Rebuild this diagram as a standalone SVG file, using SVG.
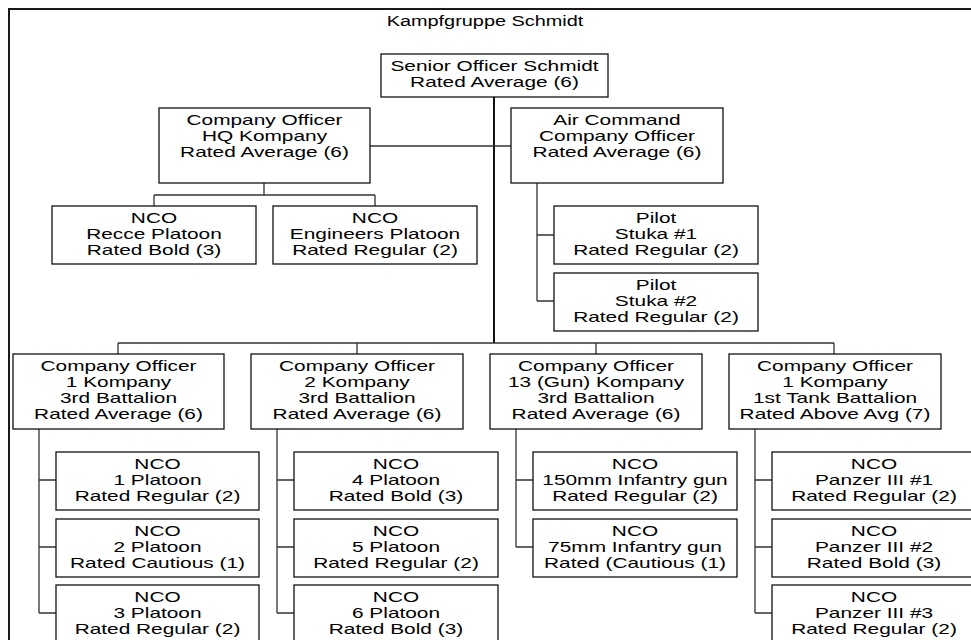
<svg xmlns="http://www.w3.org/2000/svg" width="971" height="640" viewBox="0 0 971 640">
<style>
.frame{fill:none;stroke:#1a1a1a;stroke-width:2}
.box{fill:#fff;stroke:#111;stroke-width:1.3}
.ln{fill:none;stroke:#333;stroke-width:1.3}
.trunk{fill:none;stroke:#111;stroke-width:2}
.t{font-family:"Liberation Sans",Arial,sans-serif;font-size:14px;fill:#000;text-anchor:middle}
</style>
<rect width="971" height="640" fill="#fff"/>
<rect class="frame" x="9" y="9" width="990" height="660"/>
<text class="t" transform="translate(485,26) scale(1.42,1)">Kampfgruppe Schmidt</text>
<g id="connectors">
<path class="trunk" d="M494,97V343"/>
<path class="ln" d="M370,146H511"/>
<path class="ln" d="M264,183V195M154,195H375M154,195V206M375,195V206"/>
<path class="ln" d="M537,183V301M537,235H554M537,301H554"/>
<path class="ln" d="M118,343H834M118,343V354M357,343V354M596,343V354M834,343V354"/>
<path class="ln" d="M39,429V613M39,480H56M39,547H56M39,613H56"/>
<path class="ln" d="M277,429V613M277,480H294M277,547H294M277,613H294"/>
<path class="ln" d="M516,429V547M516,480H533M516,547H533"/>
<path class="ln" d="M755,429V613M755,480H772M755,547H772M755,613H772"/>
</g>
<g id="senior"><rect class="box" x="381" y="54" width="227" height="43"/>
<text class="t" transform="translate(494.5,71) scale(1.49,1)"><tspan x="0" y="0">Senior Officer Schmidt</tspan><tspan x="0" y="16">Rated Average (6)</tspan></text></g>
<g id="hq"><rect class="box" x="159" y="108" width="211" height="75"/>
<text class="t" transform="translate(264.5,125) scale(1.49,1)"><tspan x="0" y="0">Company Officer</tspan><tspan x="0" y="16">HQ Kompany</tspan><tspan x="0" y="32">Rated Average (6)</tspan></text></g>
<g id="air"><rect class="box" x="511" y="108" width="212" height="75"/>
<text class="t" transform="translate(617,125) scale(1.49,1)"><tspan x="0" y="0">Air Command</tspan><tspan x="0" y="16">Company Officer</tspan><tspan x="0" y="32">Rated Average (6)</tspan></text></g>
<g id="recce"><rect class="box" x="52" y="206" width="204" height="58"/>
<text class="t" transform="translate(154,223) scale(1.49,1)"><tspan x="0" y="0">NCO</tspan><tspan x="0" y="16">Recce Platoon</tspan><tspan x="0" y="32">Rated Bold (3)</tspan></text></g>
<g id="engineers"><rect class="box" x="273" y="206" width="204" height="58"/>
<text class="t" transform="translate(375,223) scale(1.49,1)"><tspan x="0" y="0">NCO</tspan><tspan x="0" y="16">Engineers Platoon</tspan><tspan x="0" y="32">Rated Regular (2)</tspan></text></g>
<g id="stuka1"><rect class="box" x="554" y="206" width="204" height="58"/>
<text class="t" transform="translate(656,223) scale(1.49,1)"><tspan x="0" y="0">Pilot</tspan><tspan x="0" y="16">Stuka #1</tspan><tspan x="0" y="32">Rated Regular (2)</tspan></text></g>
<g id="stuka2"><rect class="box" x="554" y="273" width="204" height="58"/>
<text class="t" transform="translate(656,290) scale(1.49,1)"><tspan x="0" y="0">Pilot</tspan><tspan x="0" y="16">Stuka #2</tspan><tspan x="0" y="32">Rated Regular (2)</tspan></text></g>
<g id="k1"><rect class="box" x="13" y="354" width="211" height="75"/>
<text class="t" transform="translate(118.5,371) scale(1.49,1)"><tspan x="0" y="0">Company Officer</tspan><tspan x="0" y="16">1 Kompany</tspan><tspan x="0" y="32">3rd Battalion</tspan><tspan x="0" y="48">Rated Average (6)</tspan></text></g>
<g id="k2"><rect class="box" x="251" y="354" width="212" height="75"/>
<text class="t" transform="translate(357,371) scale(1.49,1)"><tspan x="0" y="0">Company Officer</tspan><tspan x="0" y="16">2 Kompany</tspan><tspan x="0" y="32">3rd Battalion</tspan><tspan x="0" y="48">Rated Average (6)</tspan></text></g>
<g id="k13"><rect class="box" x="490" y="354" width="212" height="75"/>
<text class="t" transform="translate(596,371) scale(1.49,1)"><tspan x="0" y="0">Company Officer</tspan><tspan x="0" y="16">13 (Gun) Kompany</tspan><tspan x="0" y="32">3rd Battalion</tspan><tspan x="0" y="48">Rated Average (6)</tspan></text></g>
<g id="tank"><rect class="box" x="729" y="354" width="212" height="75"/>
<text class="t" transform="translate(835,371) scale(1.49,1)"><tspan x="0" y="0">Company Officer</tspan><tspan x="0" y="16">1 Kompany</tspan><tspan x="0" y="32">1st Tank Battalion</tspan><tspan x="0" y="48">Rated Above Avg (7)</tspan></text></g>
<g id="p1"><rect class="box" x="56" y="452" width="203" height="58"/>
<text class="t" transform="translate(157.5,469) scale(1.49,1)"><tspan x="0" y="0">NCO</tspan><tspan x="0" y="16">1 Platoon</tspan><tspan x="0" y="32">Rated Regular (2)</tspan></text></g>
<g id="p2"><rect class="box" x="56" y="519" width="203" height="58"/>
<text class="t" transform="translate(157.5,536) scale(1.49,1)"><tspan x="0" y="0">NCO</tspan><tspan x="0" y="16">2 Platoon</tspan><tspan x="0" y="32">Rated Cautious (1)</tspan></text></g>
<g id="p3"><rect class="box" x="56" y="585" width="203" height="58"/>
<text class="t" transform="translate(157.5,602) scale(1.49,1)"><tspan x="0" y="0">NCO</tspan><tspan x="0" y="16">3 Platoon</tspan><tspan x="0" y="32">Rated Regular (2)</tspan></text></g>
<g id="p4"><rect class="box" x="294" y="452" width="204" height="58"/>
<text class="t" transform="translate(396,469) scale(1.49,1)"><tspan x="0" y="0">NCO</tspan><tspan x="0" y="16">4 Platoon</tspan><tspan x="0" y="32">Rated Bold (3)</tspan></text></g>
<g id="p5"><rect class="box" x="294" y="519" width="204" height="58"/>
<text class="t" transform="translate(396,536) scale(1.49,1)"><tspan x="0" y="0">NCO</tspan><tspan x="0" y="16">5 Platoon</tspan><tspan x="0" y="32">Rated Regular (2)</tspan></text></g>
<g id="p6"><rect class="box" x="294" y="585" width="204" height="58"/>
<text class="t" transform="translate(396,602) scale(1.49,1)"><tspan x="0" y="0">NCO</tspan><tspan x="0" y="16">6 Platoon</tspan><tspan x="0" y="32">Rated Bold (3)</tspan></text></g>
<g id="g150"><rect class="box" x="533" y="452" width="204" height="58"/>
<text class="t" transform="translate(635,469) scale(1.49,1)"><tspan x="0" y="0">NCO</tspan><tspan x="0" y="16">150mm Infantry gun</tspan><tspan x="0" y="32">Rated Regular (2)</tspan></text></g>
<g id="g75"><rect class="box" x="533" y="519" width="204" height="58"/>
<text class="t" transform="translate(635,536) scale(1.49,1)"><tspan x="0" y="0">NCO</tspan><tspan x="0" y="16">75mm Infantry gun</tspan><tspan x="0" y="32">Rated (Cautious (1)</tspan></text></g>
<g id="pz1"><rect class="box" x="772" y="452" width="204" height="58"/>
<text class="t" transform="translate(874,469) scale(1.49,1)"><tspan x="0" y="0">NCO</tspan><tspan x="0" y="16">Panzer III #1</tspan><tspan x="0" y="32">Rated Regular (2)</tspan></text></g>
<g id="pz2"><rect class="box" x="772" y="519" width="204" height="58"/>
<text class="t" transform="translate(874,536) scale(1.49,1)"><tspan x="0" y="0">NCO</tspan><tspan x="0" y="16">Panzer III #2</tspan><tspan x="0" y="32">Rated Bold (3)</tspan></text></g>
<g id="pz3"><rect class="box" x="772" y="585" width="204" height="58"/>
<text class="t" transform="translate(874,602) scale(1.49,1)"><tspan x="0" y="0">NCO</tspan><tspan x="0" y="16">Panzer III #3</tspan><tspan x="0" y="32">Rated Regular (2)</tspan></text></g>
</svg>
